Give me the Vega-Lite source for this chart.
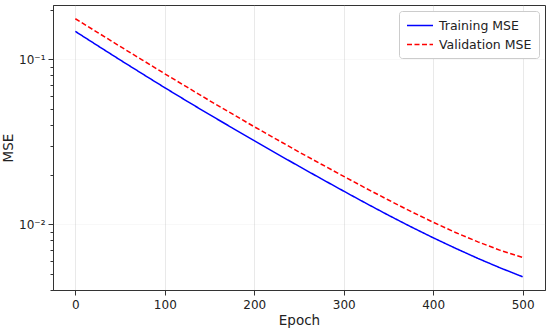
{
  "$schema": "https://vega.github.io/schema/vega-lite/v6.json",
  "width": 492,
  "height": 285,
  "autosize": {"type": "none"},
  "padding": {"left": 53, "top": 5, "right": 5, "bottom": 42},
  "config": {
    "font": "DejaVu Sans",
    "view": {"stroke": "#333333", "strokeWidth": 1},
    "axis": {
      "domainColor": "#333333",
      "tickColor": "#333333",
      "labelColor": "#222222",
      "titleColor": "#222222",
      "labelFont": "DejaVu Sans",
      "titleFont": "DejaVu Sans",
      "labelFontSize": 12,
      "titleFontSize": 13.5,
      "titleFontWeight": "normal",
      "gridColor": "#b0b0b0",
      "gridOpacity": 0.35,
      "gridWidth": 0.8
    }
  },
  "data": {
    "values": [
      {"epoch": 0, "series": "Training MSE", "mse": 0.1479},
      {"epoch": 25, "series": "Training MSE", "mse": 0.1211},
      {"epoch": 50, "series": "Training MSE", "mse": 0.0993},
      {"epoch": 75, "series": "Training MSE", "mse": 0.0817},
      {"epoch": 100, "series": "Training MSE", "mse": 0.0673},
      {"epoch": 125, "series": "Training MSE", "mse": 0.0557},
      {"epoch": 150, "series": "Training MSE", "mse": 0.0462},
      {"epoch": 175, "series": "Training MSE", "mse": 0.0385},
      {"epoch": 200, "series": "Training MSE", "mse": 0.0321},
      {"epoch": 225, "series": "Training MSE", "mse": 0.0268},
      {"epoch": 250, "series": "Training MSE", "mse": 0.02244},
      {"epoch": 275, "series": "Training MSE", "mse": 0.01884},
      {"epoch": 300, "series": "Training MSE", "mse": 0.01585},
      {"epoch": 325, "series": "Training MSE", "mse": 0.01337},
      {"epoch": 350, "series": "Training MSE", "mse": 0.01132},
      {"epoch": 375, "series": "Training MSE", "mse": 0.00964},
      {"epoch": 400, "series": "Training MSE", "mse": 0.00826},
      {"epoch": 425, "series": "Training MSE", "mse": 0.00713},
      {"epoch": 450, "series": "Training MSE", "mse": 0.00619},
      {"epoch": 475, "series": "Training MSE", "mse": 0.00542},
      {"epoch": 500, "series": "Training MSE", "mse": 0.00479},
      {"epoch": 0, "series": "Validation MSE", "mse": 0.1766},
      {"epoch": 25, "series": "Validation MSE", "mse": 0.1456},
      {"epoch": 50, "series": "Validation MSE", "mse": 0.1199},
      {"epoch": 75, "series": "Validation MSE", "mse": 0.0991},
      {"epoch": 100, "series": "Validation MSE", "mse": 0.0818},
      {"epoch": 125, "series": "Validation MSE", "mse": 0.0678},
      {"epoch": 150, "series": "Validation MSE", "mse": 0.0562},
      {"epoch": 175, "series": "Validation MSE", "mse": 0.0468},
      {"epoch": 200, "series": "Validation MSE", "mse": 0.0390},
      {"epoch": 225, "series": "Validation MSE", "mse": 0.0327},
      {"epoch": 250, "series": "Validation MSE", "mse": 0.0274},
      {"epoch": 275, "series": "Validation MSE", "mse": 0.0231},
      {"epoch": 300, "series": "Validation MSE", "mse": 0.0195},
      {"epoch": 325, "series": "Validation MSE", "mse": 0.01648},
      {"epoch": 350, "series": "Validation MSE", "mse": 0.01400},
      {"epoch": 375, "series": "Validation MSE", "mse": 0.01194},
      {"epoch": 400, "series": "Validation MSE", "mse": 0.01026},
      {"epoch": 425, "series": "Validation MSE", "mse": 0.00889},
      {"epoch": 450, "series": "Validation MSE", "mse": 0.00780},
      {"epoch": 475, "series": "Validation MSE", "mse": 0.00693},
      {"epoch": 500, "series": "Validation MSE", "mse": 0.00627}
    ]
  },
  "mark": {"type": "line", "strokeWidth": 1.5},
  "encoding": {
    "x": {
      "field": "epoch",
      "type": "quantitative",
      "scale": {"domain": [-25, 525], "nice": false, "zero": false},
      "axis": {
        "title": "Epoch",
        "values": [0, 100, 200, 300, 400, 500],
        "tickSize": 5,
        "labelPadding": 4,
        "titlePadding": 3
      }
    },
    "y": {
      "field": "mse",
      "type": "quantitative",
      "scale": {"type": "log", "domain": [0.00398, 0.214], "nice": false},
      "axis": {
        "title": "MSE",
        "values": [0.004, 0.005, 0.006, 0.007, 0.008, 0.009, 0.01, 0.02, 0.03, 0.04, 0.05, 0.06, 0.07, 0.08, 0.09, 0.1, 0.2],
        "labelExpr": "datum.value == 0.1 ? '10⁻¹' : (datum.value == 0.01 ? '10⁻²' : '')",
        "tickSize": {"condition": {"test": "datum.value == 0.1 || datum.value == 0.01", "value": 5}, "value": 3},
        "gridOpacity": {"condition": {"test": "datum.value == 0.1 || datum.value == 0.01", "value": 0.35}, "value": 0},
        "labelPadding": 3,
        "titlePadding": 3
      }
    },
    "color": {
      "field": "series",
      "type": "nominal",
      "scale": {"domain": ["Training MSE", "Validation MSE"], "range": ["#0000ff", "#ff0000"]},
      "legend": {
        "title": null,
        "orient": "top-right",
        "offset": 6,
        "symbolType": "M-1,0L3,0",
        "symbolSize": 169,
        "symbolStrokeWidth": 1.5,
        "labelFontSize": 12.5,
        "labelFont": "DejaVu Sans",
        "labelColor": "#222222",
        "labelOffset": 18,
        "rowPadding": 5,
        "padding": 7,
        "fillColor": "white",
        "strokeColor": "#cccccc",
        "cornerRadius": 3
      }
    },
    "strokeDash": {
      "field": "series",
      "type": "nominal",
      "scale": {"domain": ["Training MSE", "Validation MSE"], "range": [[1, 0], [5, 2.5]]},
      "legend": {
        "title": null,
        "orient": "top-right",
        "offset": 6,
        "symbolType": "M-1,0L3,0",
        "symbolSize": 169,
        "symbolStrokeWidth": 1.5,
        "labelFontSize": 12.5,
        "labelFont": "DejaVu Sans",
        "labelColor": "#222222",
        "labelOffset": 18,
        "rowPadding": 5,
        "padding": 7,
        "fillColor": "white",
        "strokeColor": "#cccccc",
        "cornerRadius": 3
      }
    }
  }
}
